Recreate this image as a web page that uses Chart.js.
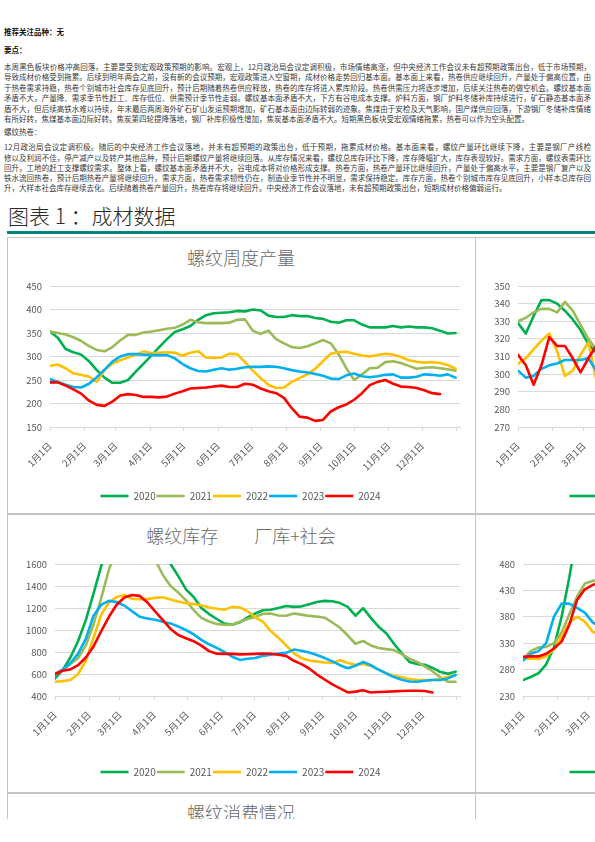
<!DOCTYPE html>
<html lang="zh-CN">
<head>
<meta charset="utf-8">
<script src="https://cdn.jsdelivr.net/npm/chart.js@4.4.1/dist/chart.umd.min.js"></script>
<style>
html,body{margin:0;padding:0;background:#fff;}
body{width:595px;height:842px;overflow:hidden;position:relative;font-family:"Noto Sans CJK SC","Noto Sans",sans-serif;}
#page{position:absolute;left:0;top:0;width:595px;height:819px;overflow:hidden;}
.t{position:absolute;left:4px;width:587px;font-size:7.5px;line-height:10px;color:#3a3a3a;text-align:justify;text-align-last:justify;white-space:nowrap;}
.t.last{text-align-last:left;}
.h{position:absolute;left:4px;font-size:7.5px;font-weight:bold;color:#111;line-height:10px;white-space:nowrap;}
.panel{position:absolute;border:1px solid #c4c4c4;box-sizing:border-box;background:#fff;}
.ptitle{position:absolute;width:468px;text-align:center;font-size:18px;font-weight:300;color:#6a6a6a;line-height:22px;white-space:pre;}
canvas{position:absolute;}
#maintitle{position:absolute;left:8px;top:202px;font-size:21px;font-weight:300;line-height:26px;color:#2a2a2a;white-space:pre;}
#bar{position:absolute;left:7px;top:231px;width:588px;height:3px;background:#00857f;}
</style>
</head>
<body>
<div id="page">
  <div class="h" id="h1" style="top:27px"></div>
  <div class="h" id="h2" style="top:45px"></div>
  <div id="p1"></div>
  <div class="h" id="h3" style="top:127px;font-weight:normal;color:#3a3a3a"></div>
  <div id="p2"></div>
  <div id="maintitle"></div>
  <div id="bar"></div>

  <div class="panel" style="left:7px;top:237px;width:469px;height:277px"></div>
  <div class="panel" style="left:475px;top:237px;width:470px;height:277px"></div>
  <div class="panel" style="left:7px;top:514px;width:469px;height:279px"></div>
  <div class="panel" style="left:475px;top:514px;width:470px;height:279px"></div>
  <div class="panel" style="left:7px;top:793px;width:469px;height:60px"></div>
  <div class="panel" style="left:475px;top:793px;width:470px;height:60px"></div>

  <div class="ptitle" id="t1" style="left:7px;top:246px"></div>
  <div class="ptitle" id="t2" style="left:7px;top:524px"></div>
  <div class="ptitle" id="t3" style="left:7px;top:801px"></div>

  <canvas id="c11" width="467" height="276" style="left:7px;top:237px"></canvas>
  <canvas id="c12" width="467" height="276" style="left:476px;top:237px"></canvas>
  <canvas id="c21" width="467" height="277" style="left:7px;top:515px"></canvas>
  <canvas id="c22" width="467" height="277" style="left:476px;top:515px"></canvas>
</div>
<script>
// ---------- text ----------
const headRecommend = '推荐关注品种：无';
const headPoints = '要点：';
const para1 = [
  '本周黑色板块价格冲高回落，主要是受到宏观政策预期的影响。宏观上，12月政治局会议定调积极，市场情绪高涨，但中央经济工作会议未有超预期政策出台，低于市场预期，',
  '导致成材价格受到拖累。后续到明年两会之前，没有新的会议预期，宏观政策进入空窗期，成材价格走势回归基本面。基本面上来看，热卷供应继续回升，产量处于偏高位置，由',
  '于热卷需求持稳，热卷个别城市社会库存见底回升，预计后期随着热卷供应释放，热卷的库存将进入累库阶段。热卷供需压力将逐步增加，后续关注热卷的做空机会。螺纹基本面',
  '矛盾不大，产量降、需求季节性赶工、库存低位、供需预计季节性走弱。螺纹基本面矛盾不大，下方有谷电成本支撑。炉料方面，钢厂炉料冬储补库持续进行，矿石静态基本面矛',
  '盾不大，但后续高铁水难以持续，年末最后两周海外矿石矿山发运预期增加，矿石基本面由边际转弱的迹象。焦煤由于安检及天气影响，国产煤供应回落，下游钢厂冬储补库情绪',
  '有所好转，焦煤基本面边际好转。焦炭第四轮提降落地，钢厂补库积极性增加，焦炭基本面矛盾不大。短期黑色板块受宏观情绪拖累，热卷可以作为空头配置。'
];
const subHead = '螺纹热卷：';
const para2 = [
  '12月政治局会议定调积极。随后的中央经济工作会议落地，并未有超预期的政策出台，低于预期，拖累成材价格。基本面来看，螺纹产量环比继续下降，主要是钢厂产线检',
  '修以及利润不佳，停产减产以及转产其他品种，预计后期螺纹产量将继续回落。从库存情况来看，螺纹总库存环比下降，库存降幅扩大，库存表现较好。需求方面，螺纹表需环比',
  '回升，工地的赶工支撑螺纹需求。整体上看，螺纹基本面矛盾并不大，谷电成本将对价格形成支撑。热卷方面，热卷产量环比继续回升，产量处于偏高水平，主要是钢厂复产以及',
  '铁水流回热卷，预计后期热卷产量将继续回升。需求方面，热卷需求韧性仍在，制造业季节性并不明显，需求保持稳定。库存方面，热卷个别城市库存见底回升，小样本总库存回',
  '升，大样本社会库存继续去化。后续随着热卷产量回升，热卷库存将继续回升。中央经济工作会议落地，未有超预期政策出台，短期成材价格偏弱运行。'
];
const figureTitle = '图表 1 ：成材数据';
const chartTitle1 = '螺纹周度产量';
const chartTitle2 = '螺纹库存　　厂库+社会';
const chartTitle3 = '螺纹消费情况';

// ---------- chart data ----------
const yearLabels = ['2020', '2021', '2022', '2023', '2024'];
const yearColors = ['#00b050', '#9bbb59', '#ffc000', '#00b0f0', '#ff0000'];
const monthTickDays = [0, 31, 59, 90, 120, 151, 181, 212, 243, 273, 304, 334, 365];
const monthTickLabels = ['1月1日','2月1日','3月1日','4月1日','5月1日','6月1日','7月1日','8月1日','9月1日','10月1日','11月1日','12月1日',''];

// 螺纹周度产量 (weekly)
const prod2020 = [353,340,316,309,304,290,271,255,244,244,250,268,285,302,320,337,352,358,365,378,388,392,393,394,397,396,400,398,387,384,384,388,386,386,382,380,374,372,377,377,368,362,362,362,365,362,364,362,362,360,355,349,350];
const prod2021 = [353,350,347,341,333,322,314,311,320,334,346,346,351,353,356,359,361,368,378,373,371,371,371,372,378,379,355,348,355,337,328,320,318,322,328,335,328,305,275,250,262,275,276,288,290,286,280,274,276,277,275,273,270];
const prod2022 = [280,283,275,264,261,257,246,271,285,292,298,304,311,307,308,309,308,302,308,311,298,297,298,306,305,288,270,254,240,233,234,246,254,262,274,290,306,309,310,306,302,300,303,306,304,299,292,289,287,288,286,282,274];
const prod2023 = [252,246,240,235,234,242,256,272,289,300,305,305,304,303,303,303,296,284,275,269,268,272,275,272,274,277,278,278,279,278,275,271,268,266,263,259,253,252,260,264,258,256,258,261,262,255,255,257,262,261,259,262,255];
const prod2024 = [245,245,238,230,221,206,197,195,204,217,220,218,214,214,213,215,221,226,232,233,234,236,238,235,235,242,240,232,226,222,212,190,172,170,163,165,183,192,198,208,222,239,246,250,242,236,235,233,228,222,220];
const prodTicks = [150, 200, 250, 300, 350, 400, 450];

// right-hand chart, row 1 (partly visible)
const r1v2020 = [329,323,333,342,342,340,336,331,325,317,312,306,302];
const r1v2021 = [330,332,335,337,337,335,341,336,328,320,314,309,306];
const r1v2022 = [306,309,314,319,323,313,299,302,311,318,297,300,303];
const r1v2023 = [302,298,299,303,305,306,308,308,308,309,302,301,302];
const r1v2024 = [311,305,294,305,321,316,316,309,301,309,316,311,308];
const r1Ticks = [270, 280, 290, 300, 310, 320, 330, 340, 350];

// 螺纹库存 厂库+社会 (weekly)
const inv2020 = [561,637,750,900,1090,1330,1580,1800,1950,2050,2100,2050,1950,1850,1720,1600,1490,1370,1300,1200,1145,1100,1058,1048,1070,1115,1150,1180,1184,1200,1218,1210,1215,1235,1255,1265,1262,1245,1210,1130,1199,1110,1030,971,875,790,710,690,684,655,620,602,621];
const inv2021 = [591,640,690,745,860,1050,1290,1550,1750,1900,2000,1950,1800,1640,1500,1400,1340,1270,1180,1110,1077,1055,1047,1050,1075,1100,1118,1148,1150,1132,1130,1150,1140,1128,1122,1112,1068,1020,950,875,900,860,837,826,818,780,740,710,670,625,570,530,530];
const inv2022 = [530,535,546,600,720,930,1140,1250,1300,1318,1283,1281,1282,1292,1297,1278,1260,1244,1235,1225,1205,1194,1184,1210,1205,1170,1115,1075,990,930,860,790,745,722,715,705,700,725,700,684,692,672,640,607,585,570,555,546,546,546,555,575,591];
const inv2023 = [600,640,700,785,920,1130,1230,1265,1255,1222,1170,1120,1105,1093,1075,1060,1032,1000,960,910,870,838,800,757,728,738,745,765,776,786,792,822,812,795,772,745,715,680,652,675,710,680,640,605,572,548,532,530,538,546,546,560,591];
const inv2024 = [600,630,642,680,750,850,990,1120,1230,1295,1318,1310,1250,1170,1090,1010,955,925,898,858,808,785,783,783,778,780,783,785,784,775,765,720,690,650,595,550,505,470,432,440,452,432,436,439,442,445,448,448,445,432];
const invTicks = [400, 600, 800, 1000, 1200, 1400, 1600];

// right-hand chart, row 2 (partly visible)
const r2v2020 = [260,266,273,290,322,380,455,540,620,690,730];
const r2v2021 = [300,315,322,323,330,350,385,418,443,448,450];
const r2v2022 = [300,301,300,305,318,343,369,380,371,352,345];
const r2v2023 = [297,310,315,330,380,405,405,397,388,370,360];
const r2v2024 = [304,305,305,310,320,333,365,412,432,440,446];
const r2Ticks = [230, 280, 330, 380, 430, 480];

// ---------- text rendering ----------
document.getElementById('h1').textContent = headRecommend;
document.getElementById('h2').textContent = headPoints;
document.getElementById('h3').textContent = subHead;
document.getElementById('maintitle').textContent = figureTitle;
document.getElementById('t1').textContent = chartTitle1;
document.getElementById('t2').textContent = chartTitle2;
document.getElementById('t3').textContent = chartTitle3;

function placeLines(containerId, lines, firstCenter, step) {
  const box = document.getElementById(containerId);
  lines.forEach((ln, i) => {
    const d = document.createElement('div');
    d.className = 't' + (i === lines.length - 1 ? ' last' : '');
    d.style.top = (firstCenter + i * step - 5) + 'px';
    d.textContent = ln;
    box.appendChild(d);
  });
}
placeLines('p1', para1, 66.7, 10.45);
placeLines('p2', para2, 147.4, 10.2);

// ---------- charts ----------
const FONT = '"Noto Sans CJK SC","Noto Sans",sans-serif';
Chart.defaults.font.family = FONT;
Chart.defaults.color = '#595959';

function buildChart(id, series, yTicks, g) {
  return new Chart(document.getElementById(id), {
    type: 'line',
    data: {
      datasets: series.map((vals, k) => ({
        label: yearLabels[k],
        data: vals.map((v, i) => ({ x: i * 7, y: v })),
        borderColor: yearColors[k],
        backgroundColor: yearColors[k],
        borderWidth: 2.6,
        pointRadius: 0,
        pointHoverRadius: 0,
        tension: 0,
        fill: false,
        borderJoinStyle: 'round',
        borderCapStyle: 'round',
        order: series.length - k
      }))
    },
    options: {
      responsive: false,
      animation: false,
      events: [],
      layout: { padding: { top: g.top, right: 14, bottom: g.bottom, left: 14 } },
      scales: {
        x: {
          type: 'linear', min: 0, max: 368,
          afterBuildTicks: s => { s.ticks = monthTickDays.map(v => ({ value: v })); },
          afterFit: s => { s.height = g.xh; },
          ticks: {
            autoSkip: false, maxRotation: 45, minRotation: 45, padding: 9,
            color: '#595959', font: { size: 9.5 },
            callback: v => monthTickLabels[monthTickDays.indexOf(v)]
          },
          grid: { drawOnChartArea: false, drawTicks: true, tickLength: 4, color: '#d9d9d9' },
          border: { color: '#d9d9d9' }
        },
        y: {
          min: yTicks[0], max: yTicks[yTicks.length - 1],
          afterBuildTicks: s => { s.ticks = yTicks.map(v => ({ value: v })); },
          afterFit: s => { s.width = g.yw; },
          ticks: { padding: 8, color: '#595959', font: { size: 9.5 }, callback: v => String(v) },
          grid: { color: '#d9d9d9', drawTicks: false },
          border: { display: false }
        }
      },
      plugins: {
        legend: {
          position: 'bottom',
          labels: {
            usePointStyle: true, pointStyle: 'line', pointStyleWidth: 28,
            padding: 1, color: '#595959', font: { size: 10 },
            sort: (a, b) => a.datasetIndex - b.datasetIndex
          }
        },
        tooltip: { enabled: false },
        title: { display: false }
      }
    }
  });
}

buildChart('c11', [prod2020, prod2021, prod2022, prod2023, prod2024], prodTicks, { top: 49, bottom: 2, xh: 63, yw: 29 });
buildChart('c12', [r1v2020, r1v2021, r1v2022, r1v2023, r1v2024], r1Ticks, { top: 49, bottom: 2, xh: 63, yw: 28 });
buildChart('c21', [inv2020, inv2021, inv2022, inv2023, inv2024], invTicks, { top: 49, bottom: 5, xh: 70, yw: 34 });
buildChart('c22', [r2v2020, r2v2021, r2v2022, r2v2023, r2v2024], r2Ticks, { top: 49, bottom: 5, xh: 70, yw: 33 });
</script>
</body>
</html>
